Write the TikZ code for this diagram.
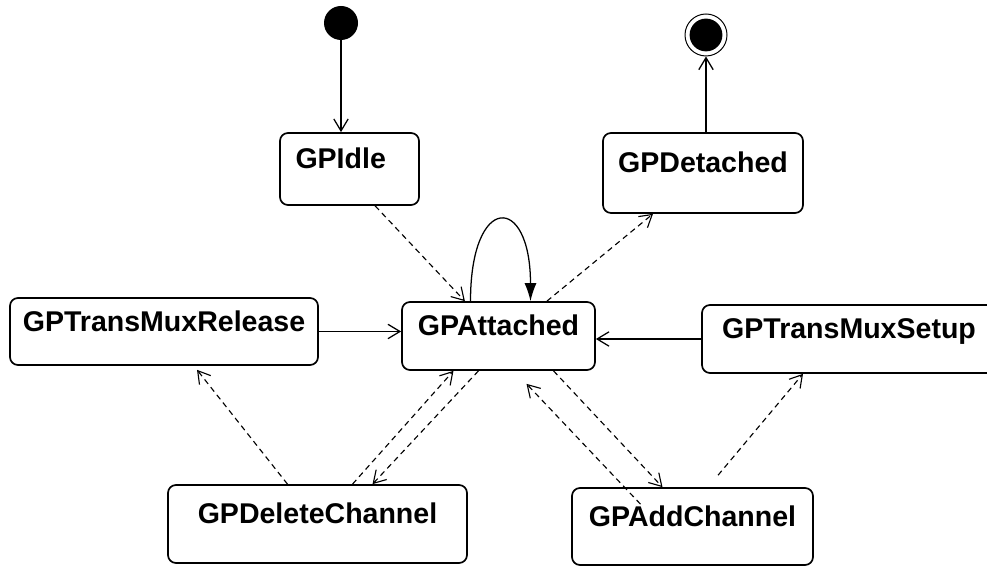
\documentclass[tikz,border=0pt]{standalone}
\usepackage{fontspec}
\setmainfont{Liberation Sans}
\usetikzlibrary{arrows.meta}

\begin{document}
\begin{tikzpicture}[
 state/.style={draw,line width=1.2pt,rounded corners=0.2cm,inner sep=0pt,text height=0.5cm,text depth=0.5cm,font=\fontsize{20.3}{24}\selectfont\bfseries},
 trans/.style={line width=0.9pt,-{Straight Barb[length=0.3cm,width=0.36cm]}},
 dtrans/.style={trans,line width=0.8pt,dash pattern=on 4pt off 3pt}
]
 \useasboundingbox (0,0) rectangle (24.675,14.175);
 \clip (0,0) rectangle (24.675,14.175);
 \node[circle,fill,inner sep=0pt,minimum size=0.85cm] (init) at (8.525,13.6) {};
 \node[circle,draw,line width=0.7pt,inner sep=0pt,minimum size=1.05cm] (final) at (17.65,13.3) {};
 \node[circle,fill,inner sep=0pt,minimum size=0.82cm] (finaldot) at (final) {};
 \node[state,align=left,text width=2.7cm,minimum width=3.475cm,minimum height=1.8cm] (idle) at (8.7375,9.95) {GPIdle};
 \node[state,minimum width=5cm,minimum height=2cm] (detached) at (17.575,9.85) {GPDetached};
 \node[state,minimum width=7.7cm,minimum height=1.675cm] (release) at (4.1,5.8875) {GPTransMuxRelease};
 \node[state,minimum width=4.825cm,minimum height=1.7cm] (attached) at (12.4625,5.775) {GPAttached};
 \node[state,minimum width=7.35cm,minimum height=1.7cm] (setup) at (21.225,5.7) {GPTransMuxSetup};
 \node[state,minimum width=7.475cm,minimum height=1.95cm] (delete) at (7.9375,1.075) {GPDeleteChannel};
 \node[state,minimum width=6.025cm,minimum height=1.925cm] (add) at (17.3125,1.0125) {GPAddChannel};
 \draw[trans] (init) -- (init |- idle.north);
 \draw[dtrans] ([xshift=0.64cm]idle.south) -- ([xshift=-0.84cm]attached.north);
 \draw[line width=0.9pt,-{Latex[length=0.45cm,width=0.3cm]}] ([xshift=-0.7cm]attached.north) .. controls +(0,2.7) and +(0,2.7) .. ([xshift=0.8cm]attached.north);
 \draw[dtrans] ([xshift=1.21cm]attached.north) -- ([xshift=-1.25cm]detached.south);
 \draw[trans] (final |- detached.north) -- (final);
 \draw[trans] (release.east) -- (release.east -| attached.west);
 \draw[trans] (setup.west) -- (setup.west -| attached.east);
 \draw[dtrans] ([xshift=-0.75cm]delete.north) -- ([xshift=0.825cm,yshift=-0.1cm]release.south);
 \draw[dtrans] ([xshift=0.875cm]delete.north) -- ([xshift=-1.125cm]attached.south);
 \draw[dtrans] ([xshift=-0.5cm]attached.south) -- ([xshift=1.375cm]delete.north);
 \draw[dtrans] ([xshift=1.375cm]attached.south) -- ([xshift=-0.75cm]add.north);
 \draw[dtrans] ([xshift=-1.3cm,yshift=-0.425cm]add.north) -- ([xshift=0.7cm,yshift=-0.325cm]attached.south);
 \draw[dtrans] ([xshift=0.64cm,yshift=0.3cm]add.north) -- ([xshift=-1.15cm]setup.south);
\end{tikzpicture}
\end{document}
